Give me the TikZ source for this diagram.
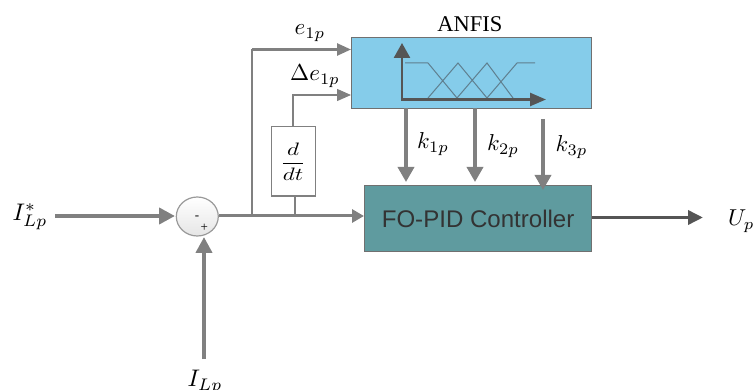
\documentclass[tikz,border=0pt]{standalone}
\usepackage{fontspec}
\setmainfont{Liberation Serif}
\newfontfamily\labelsans{Liberation Sans}
\usetikzlibrary{arrows.meta,shapes.geometric}
\definecolor{anfisblue}{HTML}{85CCEA}
\definecolor{pidteal}{HTML}{5F9B9F}
\definecolor{wire}{HTML}{808080}
\definecolor{darkwire}{HTML}{555555}
\definecolor{edgegrey}{HTML}{707070}
\definecolor{fuzzyline}{HTML}{5F7F8F}
\newcommand{\siglabel}[2]{\scalebox{#1}{$#2$}}
\tikzset{
  x=1pt,y=-1pt,
  blockbox/.style={draw=edgegrey,line width=1.2pt,minimum width=#1,inner sep=0pt,anchor=north west},
  thin wire/.style={draw=wire,line width=1.4pt},
  tipped/.style={-{Triangle[length=14pt,width=12pt]}},
  heavy/.style={draw=wire,line width=4pt,-{Triangle[length=16pt,width=16pt]}},
  medium/.style={draw=wire,line width=3.5pt,-{Triangle[length=15pt,width=16pt]}},
  sig/.style={inner sep=0pt},
}
\begin{document}
\begin{tikzpicture}
\useasboundingbox[clip] (0,0) rectangle (753,390);
% blocks
\node[blockbox=240pt,fill=anfisblue,minimum height=71pt] (anfis) at (351,37) {};
\node[blockbox=227pt,fill=pidteal,minimum height=66pt,font=\labelsans,text=black!80] (pid) at (364,185) {\scalebox{.83}{\fontsize{29}{30}\selectfont FO-PID Controller}};
\node[blockbox=44pt,fill=white,draw=wire,line width=1.4pt,minimum height=69.5pt] (deriv) at (271,126) {};
\node[sig] (derivtext) at (293,162) {\scalebox{2.3}[1.8]{$\displaystyle\frac{d}{dt}$}};
\node[ellipse,draw=gray!80,line width=1.2pt,top color=white,bottom color=gray!20,minimum width=42pt,minimum height=39pt,inner sep=0pt] (sum) at (197.3,216.5) {};
\node[inner sep=0pt,font=\fontsize{13}{13}\selectfont] (minus) at (197,217.5) {-};
\node[inner sep=0pt,font=\fontsize{13}{13}\selectfont] (plus) at (204.3,228) {+};
% titles and labels
\node[inner sep=0pt,font=\fontsize{22.5}{23}\selectfont] (anfistitle) at (470,24) {ANFIS};
\node[sig] (e1) at (310,33) {\siglabel{2.3}{e_{1p}}};
\node[sig] (de1) at (315,76) {\siglabel{2.3}{\Delta e_{1p}}};
\node[sig] (k1) at (433,144) {\siglabel{2.3}{k_{1p}}};
\node[sig] (k2) at (503,146) {\siglabel{2.3}{k_{2p}}};
\node[sig] (k3) at (571.5,147) {\siglabel{2.3}{k_{3p}}};
\node[sig] (iref) at (30,217) {\siglabel{2.4}{I^{*}_{Lp}}};
\node[sig] (imeas) at (205,382) {\siglabel{2.4}{I_{Lp}}};
\node[sig,anchor=west] (uout) at (728,221) {\siglabel{2.3}{U_p}};
% free ends
\coordinate (ca) at (55,216);
\coordinate (cb) at (204,359);
\coordinate (cc) at (252,216);
\coordinate (cd) at (252,49.5);
\coordinate (ce) at (295,216);
\coordinate (cf) at (293,95);
\coordinate (cg) at (703,217.5);
\coordinate (ch) at (543,119);
% main wires
\draw[heavy] (ca) -- (175,216);
\draw[heavy] (cb) -- (204,237);
\draw[draw=darkwire,line width=3.5pt,-{Triangle[length=15pt,width=14pt]}] (pid.east |- cg) -- (cg);
\draw[draw=wire,line width=3pt,-{Triangle[length=12pt,width=13pt]}] (sum.east |- 0,216) -- (pid.west |- 0,216);
\draw[thin wire] (cc) -- (cd);
\draw[draw=wire,line width=2.5pt,tipped] (cd) -- (anfis.west |- cd);
\draw[thin wire,tipped] (deriv.north -| cf) -- (cf) -- (anfis.west |- cf);
\draw[thin wire] (deriv.south -| ce) -- (ce);
% gains
\draw[medium] (406,108) -- (406,182);
\draw[medium] (475,108) -- (475,182);
\draw[medium] (ch) -- (543,190);
% fuzzy plot
\draw[draw=fuzzyline,line width=1pt] (405,63) -- (428,63) -- (457,98)
  (428,98) -- (458,63) -- (487,98)
  (457,98) -- (487,63) -- (513,98)
  (487,98) -- (517,63) -- (535,63);
\draw[draw=darkwire,line width=2.5pt,-{Triangle[length=15pt,width=16pt]}] (402,99.5) -- (402,43);
\draw[draw=darkwire,line width=2.5pt,-{Triangle[length=16pt,width=13pt]}] (401,99.5) -- (546,99.5);
\end{tikzpicture}
\end{document}
